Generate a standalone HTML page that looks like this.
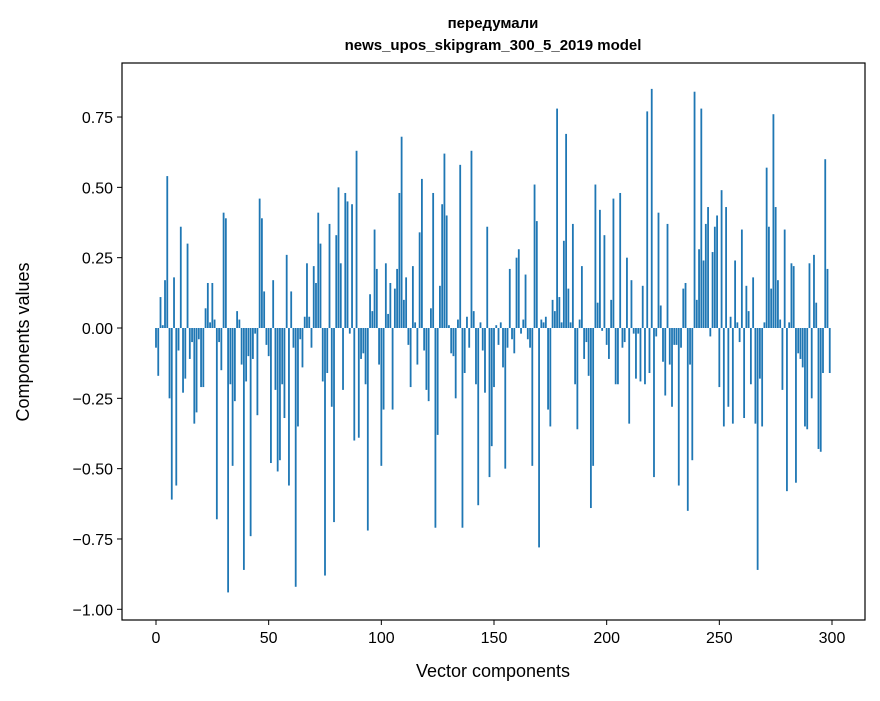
<!DOCTYPE html>
<html><head><meta charset="utf-8"><style>
body{margin:0;background:#fff;}
svg text{font-family:"Liberation Sans","DejaVu Sans",sans-serif;fill:#000;}
</style></head><body>
<svg id="chart" width="880" height="696" xmlns="http://www.w3.org/2000/svg">
<text x="493" y="28" font-size="15" font-weight="bold" text-anchor="middle">передумали</text>
<text x="493" y="50" font-size="15" font-weight="bold" text-anchor="middle">news_upos_skipgram_300_5_2019 model</text>
<g id="bars"></g>
<g id="axes"></g>
<text x="493" y="677" font-size="18" text-anchor="middle">Vector components</text>
<text x="0" y="0" font-size="18" text-anchor="middle" transform="translate(29,342) rotate(-90)">Components values</text>
</svg>
<script>
const values = [-0.07,-0.17,0.11,0.01,0.17,0.54,-0.25,-0.61,0.18,-0.56,
-0.08,0.36,-0.23,-0.18,0.30,-0.11,-0.05,-0.34,-0.30,-0.04,
-0.21,-0.21,0.07,0.16,0.02,0.16,0.03,-0.68,-0.05,-0.15,
0.41,0.39,-0.94,-0.20,-0.49,-0.26,0.06,0.03,-0.13,-0.86,
-0.19,-0.10,-0.74,-0.11,-0.02,-0.31,0.46,0.39,0.13,-0.06,
-0.10,-0.48,0.17,-0.22,-0.51,-0.47,-0.20,-0.32,0.26,-0.56,
0.13,-0.07,-0.92,-0.35,-0.04,-0.14,0.04,0.23,0.04,-0.07,
0.22,0.16,0.41,0.30,-0.19,-0.88,-0.16,0.37,-0.28,-0.69,
0.33,0.50,0.23,-0.22,0.48,0.45,-0.02,0.44,-0.40,0.63,
-0.39,-0.11,-0.09,-0.20,-0.72,0.12,0.06,0.35,0.21,-0.13,
-0.49,-0.29,0.23,0.05,0.16,-0.29,0.14,0.21,0.48,0.68,
0.10,0.18,-0.06,-0.21,0.22,0.02,-0.13,0.34,0.53,-0.08,
-0.22,-0.26,0.07,0.48,-0.71,-0.38,0.15,0.44,0.62,0.40,
0.01,-0.09,-0.10,-0.25,0.03,0.58,-0.71,-0.16,0.04,-0.07,
0.63,0.06,-0.20,-0.63,0.02,-0.08,-0.23,0.36,-0.53,-0.42,
-0.21,0.01,-0.06,0.02,-0.14,-0.50,-0.07,0.21,-0.04,-0.09,
0.25,0.28,-0.02,0.03,0.19,-0.04,-0.07,-0.49,0.51,0.38,
-0.78,0.03,0.02,0.04,-0.29,-0.35,0.10,0.06,0.78,0.11,
0.02,0.31,0.69,0.14,0.02,0.37,-0.20,-0.36,0.03,0.22,
-0.11,-0.05,-0.17,-0.64,-0.49,0.51,0.09,0.42,-0.01,0.33,
-0.06,-0.11,0.10,0.46,-0.20,-0.20,0.48,-0.07,-0.05,0.25,
-0.34,0.17,-0.02,-0.18,-0.02,-0.19,0.15,-0.20,0.77,-0.16,
0.85,-0.53,-0.03,0.41,0.08,-0.12,-0.24,0.37,-0.13,-0.28,
-0.06,-0.06,-0.56,-0.07,0.14,0.16,-0.65,-0.13,-0.47,0.84,
0.10,0.28,0.78,0.24,0.37,0.43,-0.03,0.27,0.36,0.40,
-0.21,0.49,-0.35,0.43,-0.28,0.04,-0.34,0.24,0.02,-0.05,
0.35,-0.32,0.15,0.06,-0.20,0.18,-0.34,-0.86,-0.18,-0.35,
0.02,0.57,0.36,0.14,0.76,0.43,0.17,0.03,-0.22,0.35,
-0.58,0.02,0.23,0.22,-0.55,-0.09,-0.11,-0.14,-0.35,-0.36,
0.23,-0.25,0.26,0.09,-0.43,-0.44,-0.16,0.60,0.21,-0.16];
const xTicks = [0,50,100,150,200,250,300];
const yTicks = [-1.00,-0.75,-0.50,-0.25,0.00,0.25,0.50,0.75];
const yTickLabels = ["\u22121.00","\u22120.75","\u22120.50","\u22120.25","0.00","0.25","0.50","0.75"];

const NS="http://www.w3.org/2000/svg";
const L=122,R=865,T=63,B=620;
const xs = v => 156 + v*(832-156)/300;
const ys = v => 328 - v*281.3;
const bars=document.getElementById('bars');
values.forEach((v,i)=>{
  const r=document.createElementNS(NS,'rect');
  const w=0.8*(832-156)/300;
  r.setAttribute('x',xs(i)-w/2);
  r.setAttribute('width',w);
  r.setAttribute('y',Math.min(ys(v),ys(0)));
  r.setAttribute('height',Math.abs(ys(v)-ys(0)));
  r.setAttribute('fill','#1f77b4');
  
  
  bars.appendChild(r);
});
const ax=document.getElementById('axes');
const frame=document.createElementNS(NS,'rect');
frame.setAttribute('x',L);frame.setAttribute('y',T);
frame.setAttribute('width',R-L);frame.setAttribute('height',B-T);
frame.setAttribute('fill','none');frame.setAttribute('stroke','#000');frame.setAttribute('stroke-width','1.2');


ax.appendChild(frame);
xTicks.forEach(t=>{
  const l=document.createElementNS(NS,'line');
  l.setAttribute('x1',xs(t));l.setAttribute('x2',xs(t));
  l.setAttribute('y1',B);l.setAttribute('y2',B+5);l.setAttribute('stroke','#000');
  
  
  ax.appendChild(l);
  const tx=document.createElementNS(NS,'text');
  tx.setAttribute('x',xs(t));tx.setAttribute('y',B+23);
  tx.setAttribute('font-size','16');tx.setAttribute('text-anchor','middle');
  tx.textContent=t;
  
  
  ax.appendChild(tx);
});
yTicks.forEach((t,k)=>{
  const l=document.createElementNS(NS,'line');
  l.setAttribute('x1',L-5);l.setAttribute('x2',L);
  l.setAttribute('y1',ys(t));l.setAttribute('y2',ys(t));l.setAttribute('stroke','#000');
  
  
  ax.appendChild(l);
  const tx=document.createElementNS(NS,'text');
  tx.setAttribute('x',L-9);tx.setAttribute('y',ys(t)+6);
  tx.setAttribute('font-size','16');tx.setAttribute('text-anchor','end');
  tx.textContent=yTickLabels[k];
  
  
  ax.appendChild(tx);
});
</script>
</body></html>
